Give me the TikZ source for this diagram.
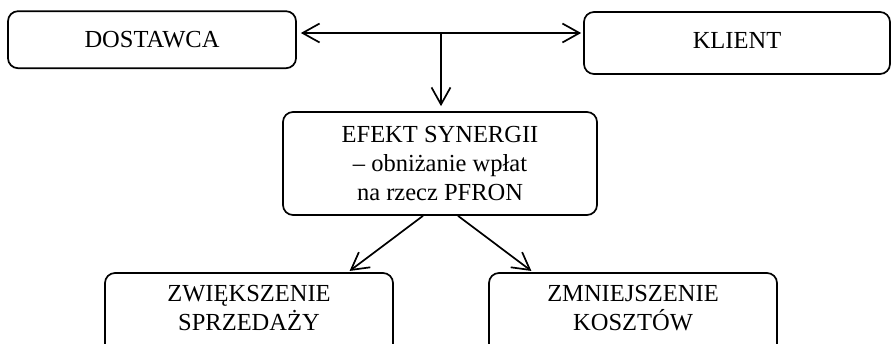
\documentclass[tikz,border=0pt]{standalone}
\usepackage{fontspec}
\setmainfont{Liberation Serif}
\usetikzlibrary{arrows.meta}
\begin{document}
\begin{tikzpicture}[x=1pt,y=-1pt,
  box/.style={draw,line width=1.7pt,rounded corners=10pt,align=center,inner sep=0pt,
    font=\fontsize{24.5}{29}\selectfont},
  >={Straight Barb[length=17pt,width=19pt,line width=1.7pt]},
  conn/.style={line width=1.7pt}]
\useasboundingbox (0,0) rectangle (891,343);
\clip (0,0) rectangle (891,343);
\node[box,minimum width=288pt,minimum height=57pt] (dost) at (152,39.7) {DOSTAWCA};
\node[box,minimum width=306pt,minimum height=62pt,text depth=6pt] (kl) at (737,43) {KLIENT};
\node[box,minimum width=314pt,minimum height=103pt] (ef) at (440,163.5) {EFEKT SYNERGII\\– obniżanie wpłat\\na rzecz PFRON};
\node[box,minimum width=288pt,minimum height=97pt,text depth=27pt] (zw) at (249,321.5) {ZWIĘKSZENIE\\SPRZEDAŻY};
\node[box,minimum width=288pt,minimum height=97pt,text depth=27pt] (zm) at (633,321.5) {ZMNIEJSZENIE\\KOSZTÓW};
\coordinate (j) at (441,33);
\draw[conn,<->,shorten <=4pt,shorten >=2pt] (dost.east |- j) -- (kl.west |- j);
\draw[conn,->,shorten >=5pt] (j) -- (ef.north -| j);
\draw[conn,->,shorten >=2pt] ([xshift=-17pt]ef.south) -- ([xshift=99pt]zw.north);
\draw[conn,->,shorten >=2pt] ([xshift=18pt]ef.south) -- ([xshift=-100pt]zm.north);
\end{tikzpicture}
\end{document}
